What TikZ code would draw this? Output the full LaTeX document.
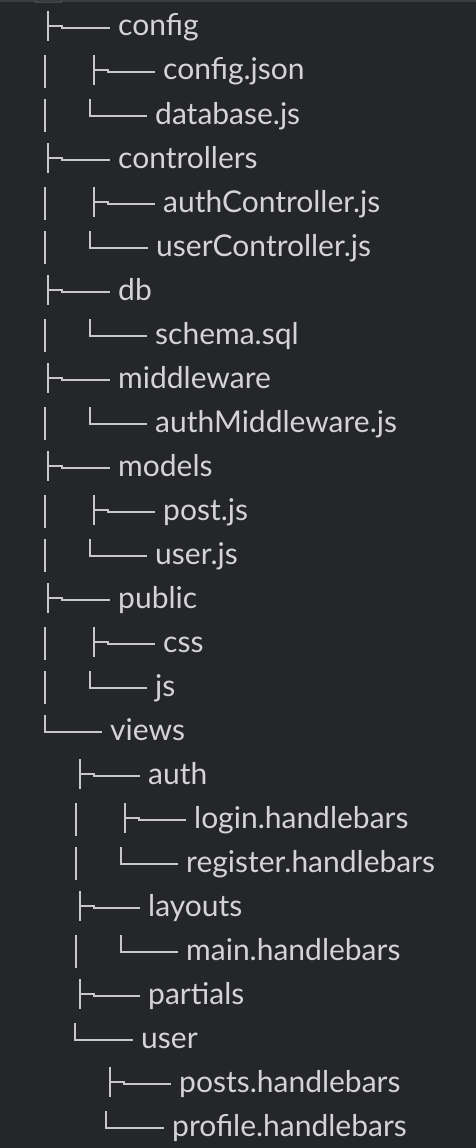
\documentclass[tikz,border=0pt]{standalone}
\usepackage{fontspec}
\newfontfamily\lato{Lato}
\definecolor{bg}{HTML}{25262A}
\definecolor{band}{HTML}{3A3B3F}
\definecolor{fg}{HTML}{D4D4D4}
\definecolor{lnc}{HTML}{C8C8C8}
\tikzset{
  txt/.style={anchor=base west, inner sep=0pt, text=fg, font=\lato\fontsize{30}{34}\selectfont},
  ln/.style={draw=lnc, line width=1.1pt},
}
% tee: x, baseline, textx
\newcommand\mytee[3]{\draw[ln] (#1,#2-25) -- (#1,#2+5); \draw[ln] (#1,#2-10) -- (#1+14,#2-10) -- (#1+14,#2-8) -- (#3-8,#2-8);}
\newcommand\myelbow[3]{\draw[ln] (#1,#2-25) -- (#1,#2-8) -- (#3-8,#2-8);}
\newcommand\mypipe[2]{\draw[ln] (#1,#2-25) -- (#1,#2+8);}
\begin{document}
\begin{tikzpicture}[x=1pt,y=-1pt]
\fill[bg] (0,0) rectangle (476,1148);
\useasboundingbox (0,0) rectangle (476,1148);
\fill[band] (0,0) rectangle (476,2);
\draw[band!70!white, fill=band, rounded corners=2pt] (35,-4) rectangle (62,2.5);
% row baseline b = 36 + 44*(i-1)
\foreach \i/\x/\t/\n in {
  1/118/config/r1, 2/163/config.json/r2, 3/155/database.js/r3,
  4/118/controllers/r4, 5/163/authController.js/r5, 6/156/userController.js/r6,
  7/118/db/r7, 8/155/schema.sql/r8, 9/118/middleware/r9, 10/155/authMiddleware.js/r10,
  11/118/models/r11, 12/163/post.js/r12, 13/155/user.js/r13,
  14/118/public/r14, 15/163/css/r15, 16/155/js/r16,
  17/110/views/r17, 18/148/auth/r18, 19/194/login.handlebars/r19, 20/186/register.handlebars/r20,
  21/148/layouts/r21, 22/186/main.handlebars/r22, 23/148/partials/r23,
  24/141/user/r24, 25/179/posts.handlebars/r25, 26/172/profile.handlebars/r26}
  { \pgfmathsetmacro\b{36+44*(\i-1)}
    \node[txt] (\n) at (\x,\b) {\t}; }
% glyphs
\mytee{48}{36}{118}
\mypipe{45}{80}\mytee{94}{80}{163}
\mypipe{45}{124}\myelbow{90}{124}{155}
\mytee{48}{168}{118}
\mypipe{45}{212}\mytee{94}{212}{163}
\mypipe{45}{256}\myelbow{90}{256}{156}
\mytee{48}{300}{118}
\mypipe{45}{344}\myelbow{90}{344}{155}
\mytee{48}{388}{118}
\mypipe{45}{432}\myelbow{90}{432}{155}
\mytee{48}{476}{118}
\mypipe{45}{520}\mytee{94}{520}{163}
\mypipe{45}{564}\myelbow{90}{564}{155}
\mytee{48}{608}{118}
\mypipe{45}{652}\mytee{94}{652}{163}
\mypipe{45}{696}\myelbow{90}{696}{155}
\myelbow{45}{740}{110}
\mytee{80}{784}{148}
\mypipe{76}{828}\mytee{125}{828}{194}
\mypipe{76}{872}\myelbow{121}{872}{186}
\mytee{80}{916}{148}
\mypipe{76}{960}\myelbow{121}{960}{186}
\mytee{80}{1004}{148}
\myelbow{75}{1048}{141}
\mytee{110}{1092}{179}
\myelbow{106}{1136}{172}
\end{tikzpicture}
\end{document}
